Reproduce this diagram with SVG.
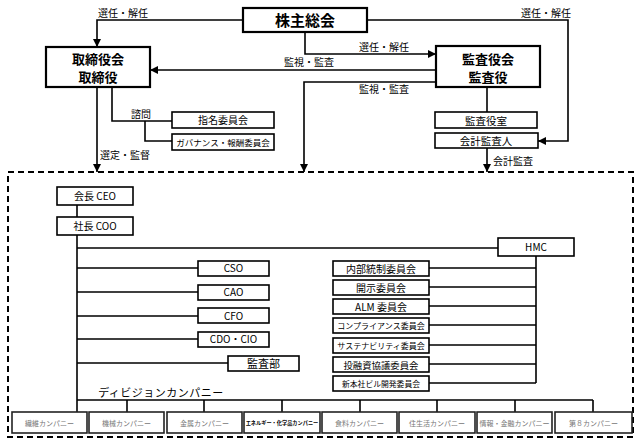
<svg xmlns="http://www.w3.org/2000/svg" width="641" height="446" viewBox="0 0 641 446">
<defs>
<marker id="ah" viewBox="0 0 10 10" refX="10" refY="5" markerWidth="8" markerHeight="8" markerUnits="userSpaceOnUse" orient="auto">
<path d="M0,0 L10,5 L0,10 z" fill="#000"/>
</marker>
<style>
text{font-family:"Noto Sans CJK JP","DejaVu Sans",sans-serif;fill:#000;text-anchor:middle}
.big{stroke:#000;stroke-width:2.2;fill:#fff}
.box{stroke:#000;stroke-width:1.6;fill:#fff}
.co{stroke:#222;stroke-width:1.6;fill:#fff}
.ln{stroke:#000;stroke-width:1.6;fill:none}
.arr{stroke:#000;stroke-width:1.6;fill:none;marker-end:url(#ah)}
.lbl{font-size:10px}
.b{font-weight:bold}
.cot{font-size:7px;fill:#777}
</style>
</defs>
<rect width="641" height="446" fill="#fff"/>

<g id="connectors">
<path class="arr" d="M243,20 H97 V47"/>
<path class="arr" d="M305,32 V54 H436"/>
<path class="arr" d="M367,20 H568 V141 H538"/>
<path class="arr" d="M436,70 H150"/>
<path class="arr" d="M436,82 H304 V172"/>
<path class="arr" d="M97,87 V172"/>
<path class="ln" d="M112,87 V121 H172"/>
<path class="ln" d="M145,121 V141 H172"/>
<path class="ln" d="M487,87 V112"/>
<path class="arr" d="M487,148 V172"/>
<path class="ln" d="M77,205 V217"/>
<path class="ln" d="M77,235 V412"/>
<path class="ln" d="M77,248 H498"/>
<path class="ln" d="M77,268 H198 M77,292 H198 M77,316 H198 M77,339 H198 M77,363 H228"/>
<path class="ln" d="M536,256 V383 M429,268 H536 M429,287 H536 M429,306 H536 M429,325 H536 M429,345 H536 M429,364 H536 M429,383 H536"/>
<path class="ln" d="M77,400 H593 M127,400 V412 M204,400 V412 M282,400 V412 M360,400 V412 M437,400 V412 M515,400 V412 M593,400 V412"/>
<text class="lbl" x="123" y="17">選任・解任</text>
<text class="lbl" x="384" y="51">選任・解任</text>
<text class="lbl" x="309" y="66">監視・監査</text>
<text class="lbl" x="384" y="93">監視・監査</text>
<text class="lbl" x="546" y="17">選任・解任</text>
<text class="lbl" x="141" y="118">諮問</text>
<text class="lbl" x="125" y="159">選定・監督</text>
<text class="lbl" x="513" y="165">会計監査</text>
</g>

<g id="frame">
<rect x="8" y="172" width="625" height="265" fill="none" stroke="#000" stroke-width="2" stroke-dasharray="6,4"/>
</g>

<g id="shareholders"><rect class="big" x="243" y="8" width="124" height="24"/><text class="b" x="305" y="26" font-size="15">株主総会</text></g>
<g id="board"><rect class="big" x="46" y="47" width="104" height="40"/><text class="b" x="98" y="64" font-size="13">取締役会</text><text class="b" x="98" y="81.5" font-size="13">取締役</text></g>
<g id="auditors"><rect class="big" x="436" y="46" width="104" height="41"/><text class="b" x="488" y="64" font-size="13">監査役会</text><text class="b" x="488" y="81.5" font-size="13">監査役</text></g>
<g id="nomination"><rect class="box" x="172" y="112" width="102" height="16"/><text x="223" y="124" font-size="10">指名委員会</text></g>
<g id="governance"><rect class="box" x="172" y="134" width="102" height="16"/><text x="223" y="146" font-size="8.5">ガバナンス・報酬委員会</text></g>
<g id="audit-office"><rect class="box" x="435" y="112" width="102" height="16"/><text x="486" y="125" font-size="10.5">監査役室</text></g>
<g id="accounting-auditor"><rect class="box" x="435" y="133" width="103" height="15"/><text x="486" y="145" font-size="10.5">会計監査人</text></g>

<g id="ceo"><rect class="box" x="57" y="187" width="76" height="18"/><text x="95" y="200" font-size="10">会長 CEO</text></g>
<g id="coo"><rect class="box" x="57" y="217" width="76" height="18"/><text x="95" y="230" font-size="10">社長 COO</text></g>
<g id="hmc"><rect class="box" x="498" y="238" width="76" height="18"/><text x="536" y="251" font-size="10">HMC</text></g>

<g id="cso"><rect class="box" x="198" y="261" width="71" height="15"/><text x="233.5" y="272" font-size="10">CSO</text></g>
<g id="cao"><rect class="box" x="198" y="285" width="71" height="15"/><text x="233.5" y="296" font-size="10">CAO</text></g>
<g id="cfo"><rect class="box" x="198" y="308" width="71" height="15"/><text x="233.5" y="319.5" font-size="10">CFO</text></g>
<g id="cdo"><rect class="box" x="198" y="332" width="71" height="15"/><text x="233.5" y="343" font-size="10">CDO・CIO</text></g>
<g id="audit-dept"><rect class="box" x="228" y="356" width="71" height="15"/><text x="263.5" y="368" font-size="11">監査部</text></g>

<g id="c1"><rect class="box" x="333" y="261" width="96" height="15"/><text x="381" y="272.5" font-size="10">内部統制委員会</text></g>
<g id="c2"><rect class="box" x="333" y="280" width="96" height="15"/><text x="381" y="291.5" font-size="10">開示委員会</text></g>
<g id="c3"><rect class="box" x="333" y="299" width="96" height="15"/><text x="381" y="310.5" font-size="10">ALM 委員会</text></g>
<g id="c4"><rect class="box" x="333" y="318" width="96" height="15"/><text x="381" y="328.5" font-size="8">コンプライアンス委員会</text></g>
<g id="c5"><rect class="box" x="333" y="338" width="96" height="15"/><text x="381" y="348.5" font-size="8">サステナビリティ委員会</text></g>
<g id="c6"><rect class="box" x="333" y="357" width="96" height="15"/><text x="381" y="368.5" font-size="9.4">投融資協議委員会</text></g>
<g id="c7"><rect class="box" x="333" y="376" width="96" height="15"/><text x="381" y="386.5" font-size="7.8">新本社ビル開発委員会</text></g>

<text x="161" y="397" font-size="11" letter-spacing="0.5">ディビジョンカンパニー</text>

<g id="co1"><rect class="co" x="12" y="412" width="75" height="21"/><text class="cot" x="49.5" y="425.5">繊維カンパニー</text></g>
<g id="co2"><rect class="co" x="89" y="412" width="75" height="21"/><text class="cot" x="126.5" y="425.5">機械カンパニー</text></g>
<g id="co3"><rect class="co" x="167" y="412" width="75" height="21"/><text class="cot" x="204.5" y="425.5">金属カンパニー</text></g>
<g id="co4"><rect class="co" x="244" y="412" width="76" height="21"/><text x="282" y="425" font-size="5.2" font-weight="bold">エネルギー・化学品カンパニー</text></g>
<g id="co5"><rect class="co" x="322" y="412" width="75" height="21"/><text class="cot" x="359.5" y="425.5">食料カンパニー</text></g>
<g id="co6"><rect class="co" x="399" y="412" width="76" height="21"/><text class="cot" x="437" y="425.5">住生活カンパニー</text></g>
<g id="co7"><rect class="co" x="477" y="412" width="75" height="21"/><text class="cot" x="514.5" y="425.5">情報・金融カンパニー</text></g>
<g id="co8"><rect class="co" x="555" y="412" width="77" height="21"/><text class="cot" x="593.5" y="425.5">第８カンパニー</text></g>
</svg>
